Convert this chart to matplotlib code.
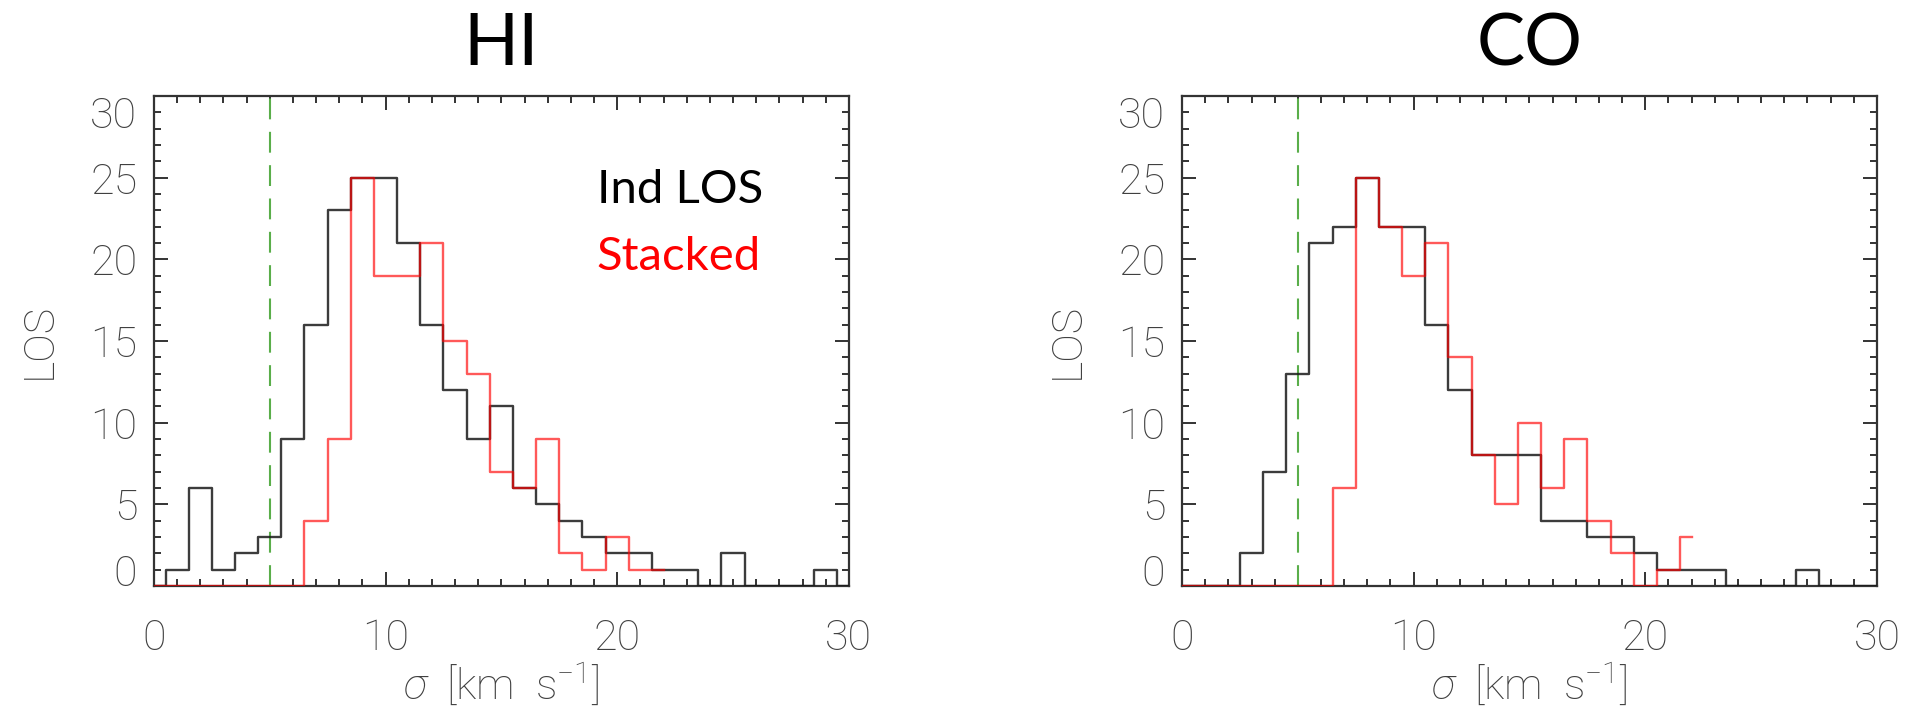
import numpy as np
import matplotlib.pyplot as plt
from matplotlib.ticker import MultipleLocator

# histogram counts per 1 km/s bin, bins centred on 0, 1, 2, ...
hi_ind = [0, 1, 6, 1, 2, 3, 9, 16, 23, 25, 25, 21, 16, 12, 9, 11, 6, 5, 4, 3, 2,
          2, 1, 1, 0, 2, 0, 0, 0, 1, 0]
hi_stack = [0, 0, 0, 0, 0, 0, 0, 4, 9, 25, 19, 19, 21, 15, 13, 7, 6, 9, 2, 1, 3,
            1, 1]
co_ind = [0, 0, 0, 2, 7, 13, 21, 22, 25, 22, 22, 16, 12, 8, 8, 8, 4, 4, 3, 3, 2,
          1, 1, 1, 0, 0, 0, 1, 0, 0, 0]
co_stack = [0, 0, 0, 0, 0, 0, 0, 6, 25, 22, 19, 21, 14, 8, 5, 10, 6, 9, 4, 2, 0,
            1, 3]

sigma_cut = 5.0
titles = ['HI', 'CO']
x_ticks = [0, 10, 20, 30]
y_ticks = [0, 5, 10, 15, 20, 25, 30]

plt.rcParams['mathtext.fontset'] = 'custom'
plt.rcParams['mathtext.rm'] = 'Roboto:light'
plt.rcParams['mathtext.it'] = 'Roboto:italic:light'

tick_font = dict(family='Roboto', weight='light', size=31, color='#404040')
label_font = dict(family='Lato', size=34)

fig = plt.figure(figsize=(19.17, 7.15), dpi=100)
ax_hi = fig.add_axes([0.0803, 0.1804, 0.3625, 0.6853])
ax_co = fig.add_axes([0.6166, 0.1804, 0.3625, 0.6853])

panels = [(ax_hi, hi_ind, hi_stack), (ax_co, co_ind, co_stack)]
for (ax, ind, stack), title in zip(panels, titles):
    ax.step(np.arange(len(ind)), ind, where='mid', color='#1a1a1a', lw=1.7,
            alpha=0.85, zorder=3)
    ax.step(np.arange(len(stack)), stack, where='mid', color='red', lw=1.7,
            alpha=0.65, zorder=4)
    ax.axvline(sigma_cut, color='#5aae4a', lw=1.5, dashes=(10, 6), zorder=2)

    ax.set_xlim(0, 30)
    ax.set_ylim(0, 30)
    ax.set_xticks(x_ticks)
    ax.set_yticks(y_ticks)
    ax.xaxis.set_minor_locator(MultipleLocator(1))
    ax.yaxis.set_minor_locator(MultipleLocator(1))
    ax.tick_params(which='both', direction='in', top=True, right=True,
                   color='#333333', width=1.4)
    ax.tick_params(which='major', length=10)
    ax.tick_params(which='minor', length=5)
    ax.tick_params(axis='x', pad=23)
    ax.tick_params(axis='y', pad=12)
    for sp in ax.spines.values():
        sp.set_color('#333333')
        sp.set_linewidth(1.6)

    ax.set_xticklabels([str(v) for v in x_ticks], fontdict=tick_font)
    ax.set_yticklabels([str(v) for v in y_ticks], fontdict=tick_font)
    ylabs = ax.get_yticklabels()
    ylabs[0].set_verticalalignment('baseline')
    ylabs[-1].set_verticalalignment('top')

    ax.set_xlabel(r'$\sigma$  [km  s$^{-1}$]', fontdict=tick_font)
    ax.xaxis.set_label_coords(0.5, -0.155)
    ax.set_ylabel('LOS', fontdict=tick_font)
    ax.yaxis.set_label_coords(-0.135, 0.5)

    ax.set_title(title, family='Lato', size=52, color='black', pad=22)

ax_hi.text(0.637, 0.782, 'Ind LOS', transform=ax_hi.transAxes, color='black',
           **label_font)
ax_hi.text(0.637, 0.645, 'Stacked', transform=ax_hi.transAxes, color='red',
           **label_font)

fig.savefig('out.png', dpi=100)
